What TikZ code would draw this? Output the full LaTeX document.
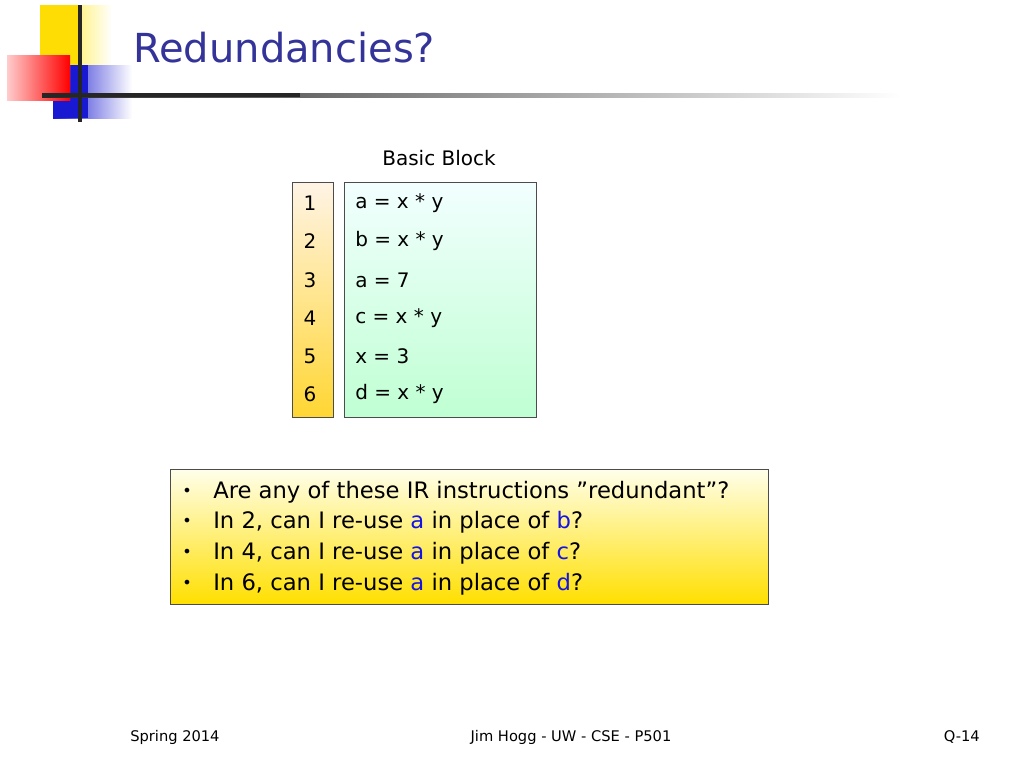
\documentclass[tikz,border=0pt]{standalone}
\usepackage{fontspec}
\setmainfont{DejaVu Sans}
\begin{document}
\begin{tikzpicture}[x=0.75pt,y=-0.75pt,
  code/.style={anchor=west,font=\fontsize{15}{18}\selectfont,inner sep=0pt},
  num/.style={font=\fontsize{15}{18}\selectfont,inner sep=0pt},
  bul/.style={anchor=west,font=\fontsize{17}{20}\selectfont,inner sep=0pt},
  foot/.style={font=\fontsize{11}{13}\selectfont,inner sep=0pt}]
\definecolor{titleblue}{RGB}{51,51,153}
\definecolor{hlblue}{RGB}{20,20,230}
\useasboundingbox (0,0) rectangle (1024,768);
% logo
\shade[left color=yellow!80!orange,right color=white] (40,5) rectangle (112,66);
\fill[yellow!80!orange] (40,5) rectangle (80,66);
\shade[left color=blue!80!black!90,right color=white] (53,65) rectangle (132,118);
\fill[blue!80!black!90] (53,65) rectangle (88,118);
\shade[left color=white,right color=red!85,top color=white] (7,55) rectangle (70,100);
\shade[left color=red!20,right color=red] (7,55) rectangle (70,100);
\shade[left color=black!85,right color=white] (42,93) rectangle (900,97);
\fill[black!85] (42,93) rectangle (300,97);
\fill[black!85] (78,5) rectangle (82,122);
\node[anchor=west,text=titleblue,font=\fontsize{30}{34}\selectfont,inner sep=0pt] (title) at (133,48) {Redundancies?};
% basic block
\node[font=\fontsize{15}{18}\selectfont] (bb) at (439,158) {Basic Block};
\shade[draw=black!70,top color=yellow!10!orange!10,bottom color=yellow!60!orange!80] (292,182) rectangle (333,417);
\coordinate (nb) at (292,182);
\shade[draw=black!70,top color=cyan!5!white,bottom color=cyan!30!green!25] (344,182) rectangle (536,417);
\coordinate (cb) at (344,182);
\foreach \y/\n/\t in {203/1/{a = x * y},241/2/{b = x * y},280/3/{a = 7},318/4/{c = x * y},356/5/{x = 3},394/6/{d = x * y}}{
  \node[num] (n\n) at (310,\y) {\n};
  \node[code] (c\n) at (355,\y) {\t};
}
% bullet box
\shade[draw=black!70,top color=yellow!8,bottom color=yellow!75!orange] (170,469) rectangle (768,604);
\foreach \y/\i/\t in {492/1/{Are any of these IR instructions "redundant"?},
  522/2/{In 2, can I re-use \textcolor{hlblue}{a} in place of \textcolor{hlblue}{b}?},
  553/3/{In 4, can I re-use \textcolor{hlblue}{a} in place of \textcolor{hlblue}{c}?},
  584/4/{In 6, can I re-use \textcolor{hlblue}{a} in place of \textcolor{hlblue}{d}?}}{
  \node[bul] (d\i) at (182,\y) {\fontsize{12}{14}\selectfont•};
  \node[bul] (b\i) at (213,\y) {\t};
}
\node[foot,anchor=west] (f1) at (130,737) {Spring 2014};
\node[foot] (f2) at (571,737) {Jim Hogg - UW - CSE - P501};
\node[foot,anchor=east] (f3) at (980,737) {Q-14};
\end{tikzpicture}
\end{document}
